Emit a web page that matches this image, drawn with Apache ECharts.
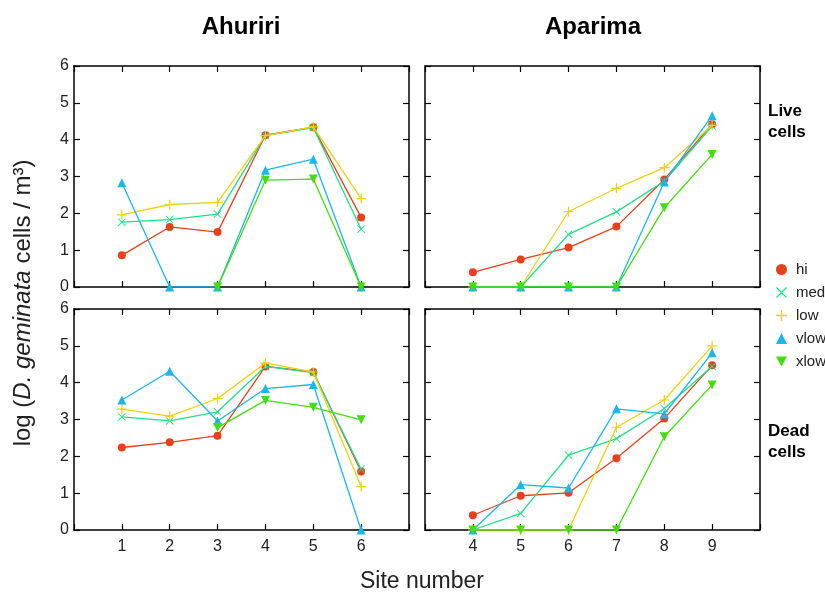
<!DOCTYPE html>
<html><head><meta charset="utf-8">
<script src="https://cdn.jsdelivr.net/npm/echarts@6/dist/echarts.min.js"></script>
<style>html,body{margin:0;padding:0;background:#fff}#c{width:825px;height:593px}</style>
</head><body><div id="c"></div>
<script>
const seriesNames = ['hi', 'med', 'low', 'vlow', 'xlow'];
const ahuririSites = [1, 2, 3, 4, 5, 6];
const aparimaSites = [4, 5, 6, 7, 8, 9];
const yTicks = [0, 1, 2, 3, 4, 5, 6];

// Ahuriri, live cells
const ahuririLiveHi   = [0.86, 1.63, 1.49, 4.12, 4.34, 1.89];
const ahuririLiveMed  = [1.76, 1.83, 1.98, 4.11, 4.33, 1.57];
const ahuririLiveLow  = [1.96, 2.24, 2.30, 4.11, 4.35, 2.40];
const ahuririLiveVlow = [2.83, 0, 0, 3.17, 3.47, 0];
const ahuririLiveXlow = [null, null, 0, 2.90, 2.93, 0];
// Aparima, live cells
const aparimaLiveHi   = [0.40, 0.75, 1.07, 1.64, 2.92, 4.42];
const aparimaLiveMed  = [0, 0, 1.43, 2.04, 2.87, 4.37];
const aparimaLiveLow  = [0, 0, 2.05, 2.68, 3.24, 4.39];
const aparimaLiveVlow = [0, 0, 0, 0, 2.85, 4.65];
const aparimaLiveXlow = [0, 0, 0, 0, 2.15, 3.60];
// Ahuriri, dead cells
const ahuririDeadHi   = [2.24, 2.38, 2.56, 4.44, 4.29, 1.59];
const ahuririDeadMed  = [3.07, 2.96, 3.21, 4.44, 4.27, 1.65];
const ahuririDeadLow  = [3.28, 3.09, 3.57, 4.53, 4.29, 1.18];
const ahuririDeadVlow = [3.53, 4.31, 2.96, 3.84, 3.95, 0];
const ahuririDeadXlow = [null, null, 2.78, 3.52, 3.33, 2.99];
// Aparima, dead cells
const aparimaDeadHi   = [0.40, 0.93, 1.01, 1.95, 3.03, 4.47];
const aparimaDeadMed  = [0, 0.45, 2.03, 2.48, 3.30, 4.44];
const aparimaDeadLow  = [0, 0, 0, 2.79, 3.53, 5.00];
const aparimaDeadVlow = [0, 1.23, 1.14, 3.29, 3.15, 4.81];
const aparimaDeadXlow = [0, 0, 0, 0, 2.53, 3.94];

const colors = {hi:'#e8401c', med:'#22dd88', low:'#f0d010', vlow:'#1ab8e8', xlow:'#44dd11'};
const plusPath = 'path://M0,4.4H10V5.6H0Z M4.4,0H5.6V10H4.4Z';
const xPath = 'path://M0.8,0L5,4.2L9.2,0L10,0.8L5.8,5L10,9.2L9.2,10L5,5.8L0.8,10L0,9.2L4.2,5L0,0.8Z';
const triDown = 'path://M0,0L10,0L5,9Z';
const symbols = {hi:'circle', med:xPath, low:plusPath, vlow:'triangle', xlow:triDown};
const symSizes = {hi:8, med:8, low:10, vlow:9, xlow:9};

const panels = [
  {sites: ahuririSites, vals: [ahuririLiveHi, ahuririLiveMed, ahuririLiveLow, ahuririLiveVlow, ahuririLiveXlow], left:74, top:66, xmin:0, xmax:7, xl:false, yl:true},
  {sites: aparimaSites, vals: [aparimaLiveHi, aparimaLiveMed, aparimaLiveLow, aparimaLiveVlow, aparimaLiveXlow], left:425, top:66, xmin:3, xmax:10, xl:false, yl:false},
  {sites: ahuririSites, vals: [ahuririDeadHi, ahuririDeadMed, ahuririDeadLow, ahuririDeadVlow, ahuririDeadXlow], left:74, top:309, xmin:0, xmax:7, xl:true, yl:true},
  {sites: aparimaSites, vals: [aparimaDeadHi, aparimaDeadMed, aparimaDeadLow, aparimaDeadVlow, aparimaDeadXlow], left:425, top:309, xmin:3, xmax:10, xl:true, yl:false}
];

const grid = [], xAxis = [], yAxis = [], series = [];
const font = 'Liberation Sans, Arial, sans-serif';
const axisLine = {show:true, onZero:false, lineStyle:{color:'#000', width:1.5}};
const axisTick = {show:true, inside:true, length:6, lineStyle:{color:'#000', width:1.2}};
panels.forEach((p, gi) => {
  grid.push({left:p.left, top:p.top, width:335, height:221, containLabel:false});
  const xa = (pos, lab) => ({type:'value', gridIndex:gi, position:pos, min:p.xmin, max:p.xmax, interval:1,
    axisLine, axisTick, splitLine:{show:false},
    axisLabel:{show:lab, margin:9, fontSize:16, color:'#222', fontFamily:font,
      formatter: v => (v === p.xmin || v === p.xmax) ? '' : String(v)}});
  const ya = (pos, lab) => ({type:'value', gridIndex:gi, position:pos, min:yTicks[0], max:yTicks[yTicks.length-1], interval:1,
    axisLine, axisTick, splitLine:{show:false},
    axisLabel:{show:lab, margin:5, fontSize:16, color:'#222', fontFamily:font}});
  xAxis.push(xa('bottom', p.xl)); xAxis.push(xa('top', false));
  yAxis.push(ya('left', p.yl)); yAxis.push(ya('right', false));
  seriesNames.forEach((n, si) => {
    const data = [];
    p.sites.forEach((s, i) => { const v = p.vals[si][i]; if (v !== null) data.push([s, v]); });
    series.push({type:'line', name:n, xAxisIndex:gi*2, yAxisIndex:gi*2, data,
      symbol:symbols[n], symbolSize:symSizes[n], showSymbol:true,
      lineStyle:{color:colors[n], width:1.3}, itemStyle:{color:colors[n]},
      animation:false, z: 2 + si});
  });
});

const chart = echarts.init(document.getElementById('c'), null, {renderer:'canvas'});
chart.setOption({
  backgroundColor:'#fff',
  animation:false,
  grid, xAxis, yAxis, series,
  legend:{orient:'vertical', left:771, top:257, itemWidth:11, itemHeight:11, itemGap:8,
    textStyle:{fontSize:15, color:'#222', fontFamily:font, padding:[0,0,0,4]},
    data: seriesNames.map(n => ({name:n, icon:symbols[n]}))},
  graphic:[
    {type:'text', x:241, y:27, style:{text:'Ahuriri', font:'bold 24px '+font, fill:'#000', textAlign:'center', textVerticalAlign:'middle'}},
    {type:'text', x:593, y:27, style:{text:'Aparima', font:'bold 24px '+font, fill:'#000', textAlign:'center', textVerticalAlign:'middle'}},
    {type:'text', x:768, y:122, style:{text:'Live\ncells', font:'bold 17px '+font, fill:'#000', lineHeight:21, textVerticalAlign:'middle'}},
    {type:'text', x:768, y:442, style:{text:'Dead\ncells', font:'bold 17px '+font, fill:'#000', lineHeight:21, textVerticalAlign:'middle'}},
    {type:'text', x:422, y:582, style:{text:'Site number', font:'23px '+font, fill:'#222', textAlign:'center', textVerticalAlign:'middle'}},
    {type:'text', x:23, y:303, rotation:Math.PI/2, originX:0, originY:0,
      style:{text:'{n|log (}{i|D. geminata}{n| cells / m³)}', textAlign:'center', textVerticalAlign:'middle',
        rich:{n:{fontSize:24, fontFamily:font, fill:'#222'}, i:{fontSize:24, fontFamily:font, fontStyle:'italic', fill:'#222'}}}}
  ]
});
</script></body></html>
